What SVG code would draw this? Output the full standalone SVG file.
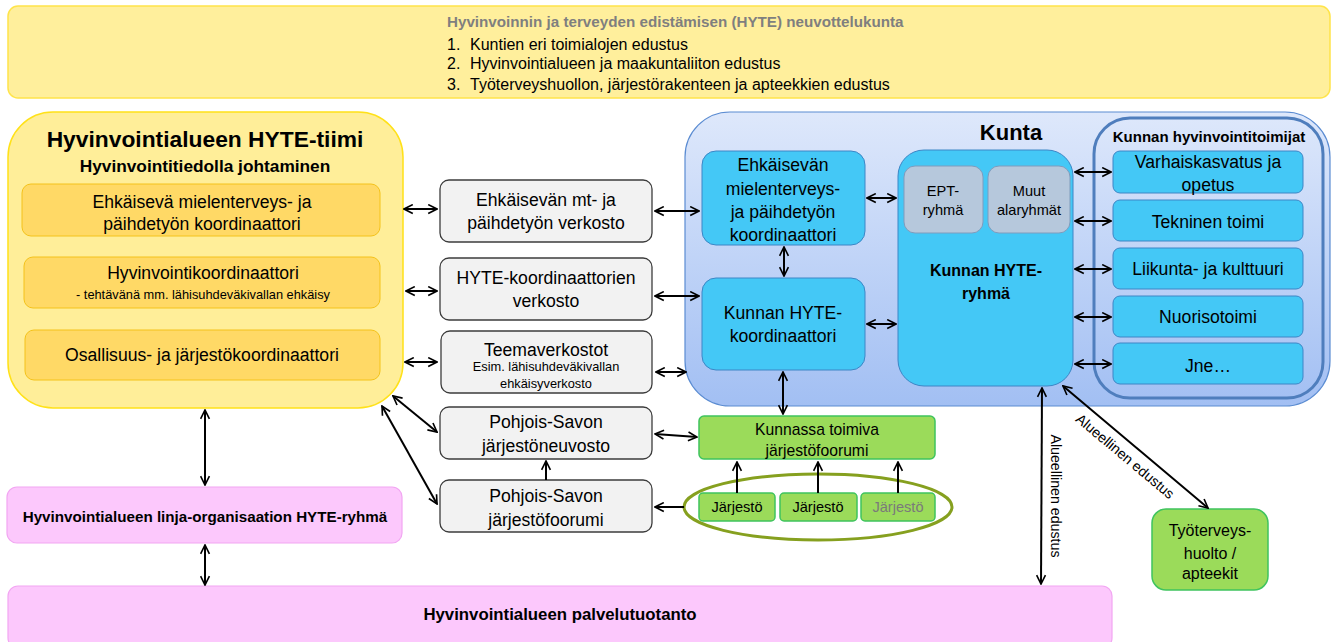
<svg xmlns="http://www.w3.org/2000/svg" width="1338" height="642" viewBox="0 0 1338 642">
<defs>
<linearGradient id="kuntaGrad" x1="0" y1="0" x2="0" y2="1">
<stop offset="0" stop-color="#DEE8FB"/>
<stop offset="1" stop-color="#A2BFF3"/>
</linearGradient>
<marker id="ah" viewBox="0 0 10 10" refX="9" refY="5" markerWidth="5.5" markerHeight="5.5" orient="auto-start-reverse" markerUnits="strokeWidth">
<path d="M1,1 L9,5 L1,9" fill="none" stroke="#000" stroke-width="1.5"/>
</marker>
<style>
text{font-family:"Liberation Sans","DejaVu Sans",sans-serif;fill:#000}
.c{text-anchor:middle}
.b{font-weight:bold}
.grey{fill:#F2F2F2;stroke:#3C3C3C;stroke-width:1.3}
.org{fill:#FFD966;stroke:#F4C21A;stroke-width:1}
.cyan{fill:#44C8F6;stroke:#3C86C6;stroke-width:1}
.green{fill:#9BDB5A;stroke:#3FC45E;stroke-width:1.5}
.pink{fill:#FCC8FC;stroke:#F2A6F2;stroke-width:1.2}
.sub{fill:#B6C8DC;stroke:#7E9CBD;stroke-width:1}
.t18{font-size:17.6px}
.t16{font-size:15.7px}
.conn line{stroke:#000;stroke-width:2;fill:none}
.bi{marker-start:url(#ah);marker-end:url(#ah)}
.one{marker-end:url(#ah)}
</style>
</defs>

<g id="neuvottelukunta">
<rect x="8" y="6" width="1322" height="92" rx="10" fill="#FFEF9C" stroke="#FFE44A" stroke-width="1.5"/>
<text x="447" y="27" class="b" font-size="15.2" style="fill:#7F7F7F">Hyvinvoinnin ja terveyden edistämisen (HYTE) neuvottelukunta</text>
<text x="447" y="50" font-size="16">1.</text><text x="470" y="50" font-size="16">Kuntien eri toimialojen edustus</text>
<text x="447" y="69" font-size="16">2.</text><text x="470" y="69" font-size="16">Hyvinvointialueen ja maakuntaliiton edustus</text>
<text x="447" y="90" font-size="16">3.</text><text x="470" y="90" font-size="16">Työterveyshuollon, järjestörakenteen ja apteekkien edustus</text>
</g>

<g id="hyte-tiimi">
<rect x="8" y="112" width="395" height="296" rx="45" fill="#FFEE99" stroke="#FFE119" stroke-width="1.5"/>
<text x="205" y="147" class="c b" font-size="22.8">Hyvinvointialueen HYTE-tiimi</text>
<text x="205" y="172" class="c b" font-size="17.3">Hyvinvointitiedolla johtaminen</text>
</g>
<g id="ehkaiseva-koord">
<rect x="22" y="184" width="358" height="52" rx="9" class="org"/>
<text x="202" y="208" class="c t18">Ehkäisevä mielenterveys- ja</text>
<text x="202" y="230" class="c t18">päihdetyön koordinaattori</text>
</g>
<g id="hyvinvointikoord">
<rect x="24" y="257" width="356" height="51" rx="9" class="org"/>
<text x="203" y="279" class="c t18">Hyvinvointikoordinaattori</text>
<text x="203" y="299" class="c" font-size="12.8">- tehtävänä mm. lähisuhdeväkivallan ehkäisy</text>
</g>
<g id="osallisuus-koord">
<rect x="25" y="330" width="355" height="50" rx="9" class="org"/>
<text x="202" y="361" class="c t18">Osallisuus- ja järjestökoordinaattori</text>
</g>

<g id="verkosto-mt">
<rect x="440" y="180" width="212" height="62" rx="9" class="grey"/>
<text x="546" y="206" class="c t18">Ehkäisevän mt- ja</text>
<text x="546" y="229" class="c t18">päihdetyön verkosto</text>
</g>
<g id="verkosto-hyte">
<rect x="440" y="258" width="212" height="62" rx="9" class="grey"/>
<text x="546" y="284" class="c t18">HYTE-koordinaattorien</text>
<text x="546" y="307" class="c t18">verkosto</text>
</g>
<g id="teemaverkostot">
<rect x="441" y="331" width="211" height="62" rx="9" class="grey"/>
<text x="546" y="356" class="c t18">Teemaverkostot</text>
<text x="546" y="371" class="c" font-size="12.8">Esim. lähisuhdeväkivallan</text>
<text x="546" y="388" class="c" font-size="12.8">ehkäisyverkosto</text>
</g>
<g id="jarjestoneuvosto">
<rect x="440" y="407" width="212" height="52" rx="9" class="grey"/>
<text x="546" y="428" class="c t18">Pohjois-Savon</text>
<text x="546" y="452" class="c t18">järjestöneuvosto</text>
</g>
<g id="ps-jarjestofoorumi">
<rect x="440" y="480" width="212" height="52" rx="9" class="grey"/>
<text x="546" y="502" class="c t18">Pohjois-Savon</text>
<text x="546" y="526" class="c t18">järjestöfoorumi</text>
</g>

<g id="kunta">
<rect x="685" y="112" width="645" height="294" rx="45" fill="url(#kuntaGrad)" stroke="#5B8CD2" stroke-width="1.2"/>
<text x="1011" y="140" class="c b" font-size="22">Kunta</text>
</g>
<g id="kunta-ehkaiseva">
<rect x="702" y="151" width="163" height="94" rx="14" class="cyan"/>
<text x="783" y="171" class="c t18">Ehkäisevän</text>
<text x="783" y="195" class="c t18">mielenterveys-</text>
<text x="783" y="218" class="c t18">ja päihdetyön</text>
<text x="783" y="241" class="c t18">koordinaattori</text>
</g>
<g id="kunta-hyte-koord">
<rect x="702" y="278" width="163" height="92" rx="14" class="cyan"/>
<text x="783" y="319" class="c t18">Kunnan HYTE-</text>
<text x="783" y="342" class="c t18">koordinaattori</text>
</g>
<g id="kunta-hyte-ryhma">
<rect x="898" y="150" width="175" height="236" rx="26" class="cyan"/>
<rect x="904" y="166" width="79" height="67" rx="11" class="sub"/>
<text x="943" y="196" class="c" font-size="14.6">EPT-</text>
<text x="943" y="215" class="c" font-size="14.6">ryhmä</text>
<rect x="988" y="166" width="82" height="67" rx="11" class="sub"/>
<text x="1029" y="196" class="c" font-size="14.6">Muut</text>
<text x="1029" y="215" class="c" font-size="14.6">alaryhmät</text>
<text x="986" y="276" class="c b" font-size="16">Kunnan HYTE-</text>
<text x="986" y="299" class="c b" font-size="16">ryhmä</text>
</g>

<g id="hyvinvointitoimijat">
<rect x="1094" y="118" width="229" height="280" rx="36" fill="none" stroke="#4F7EBD" stroke-width="3"/>
<text x="1209" y="142" class="c b" font-size="15">Kunnan hyvinvointitoimijat</text>
</g>
<g id="varhaiskasvatus">
<rect x="1113" y="151" width="190" height="42" rx="7" class="cyan"/>
<text x="1208" y="168" class="c t18">Varhaiskasvatus ja</text>
<text x="1208" y="191" class="c t18">opetus</text>
</g>
<g id="tekninen">
<rect x="1113" y="200" width="190" height="41" rx="7" class="cyan"/>
<text x="1208" y="228" class="c t18">Tekninen toimi</text>
</g>
<g id="liikunta">
<rect x="1113" y="248" width="190" height="41" rx="7" class="cyan"/>
<text x="1208" y="275" class="c t18">Liikunta- ja kulttuuri</text>
</g>
<g id="nuorisotoimi">
<rect x="1113" y="296" width="190" height="41" rx="7" class="cyan"/>
<text x="1208" y="323" class="c t18">Nuorisotoimi</text>
</g>
<g id="jne">
<rect x="1113" y="343" width="190" height="41" rx="7" class="cyan"/>
<text x="1208" y="372" class="c t18">Jne…</text>
</g>

<g id="kunnan-jarjestofoorumi">
<rect x="699" y="416" width="236" height="43" rx="5" class="green"/>
<text x="817" y="435" class="c t16">Kunnassa toimiva</text>
<text x="817" y="456" class="c t16">järjestöfoorumi</text>
</g>
<g id="jarjestot">
<ellipse cx="818" cy="507" rx="134" ry="33" fill="none" stroke="#86A01F" stroke-width="3"/>
<rect x="699" y="493" width="76" height="28" rx="4" class="green"/>
<text x="737" y="512" class="c" font-size="14.6">Järjestö</text>
<rect x="780" y="493" width="77" height="28" rx="4" class="green"/>
<text x="818" y="512" class="c" font-size="14.6">Järjestö</text>
<rect x="861" y="493" width="74" height="28" rx="4" class="green"/>
<text x="898" y="512" class="c" font-size="14.6" style="fill:#7A7A7A">Järjestö</text>
</g>

<g id="tyoterveys">
<rect x="1152" y="509" width="116" height="81" rx="14" class="green"/>
<text x="1210" y="536" class="c" font-size="16">Työterveys-</text>
<text x="1210" y="559" class="c" font-size="16">huolto /</text>
<text x="1210" y="579" class="c" font-size="16">apteekit</text>
</g>

<g id="linja-organisaatio">
<rect x="7" y="487" width="395" height="56" rx="10" class="pink"/>
<text x="205" y="522" class="c b" font-size="15.2">Hyvinvointialueen linja-organisaation HYTE-ryhmä</text>
</g>
<g id="palvelutuotanto">
<rect x="8" y="586" width="1104" height="62" rx="10" class="pink"/>
<text x="560" y="620" class="c b" font-size="16.8">Hyvinvointialueen palvelutuotanto</text>
</g>

<g id="connectors" class="conn">
<line x1="404" y1="209" x2="437" y2="209" class="bi"/>
<line x1="406" y1="291" x2="437" y2="291" class="bi"/>
<line x1="405" y1="362" x2="437" y2="362" class="bi"/>
<line x1="393" y1="396" x2="437" y2="432" class="bi"/>
<line x1="382" y1="406" x2="437" y2="504" class="bi"/>
<line x1="655" y1="211" x2="699" y2="211" class="bi"/>
<line x1="655" y1="296" x2="699" y2="296" class="bi"/>
<line x1="656" y1="372" x2="686" y2="372" class="bi"/>
<line x1="784" y1="247" x2="784" y2="276" class="bi"/>
<line x1="867" y1="198" x2="896" y2="198" class="bi"/>
<line x1="867" y1="324" x2="896" y2="324" class="bi"/>
<line x1="783" y1="372" x2="783" y2="414" class="bi"/>
<line x1="655" y1="434" x2="697" y2="437" class="bi"/>
<line x1="684" y1="507" x2="655" y2="507" class="one"/>
<line x1="546" y1="480" x2="546" y2="461" class="one"/>
<line x1="737" y1="493" x2="737" y2="462" class="one"/>
<line x1="818" y1="493" x2="818" y2="462" class="one"/>
<line x1="898" y1="493" x2="898" y2="462" class="one"/>
<line x1="1075" y1="172" x2="1111" y2="172" class="bi"/>
<line x1="1075" y1="221" x2="1111" y2="221" class="bi"/>
<line x1="1075" y1="269" x2="1111" y2="269" class="bi"/>
<line x1="1075" y1="317" x2="1111" y2="317" class="bi"/>
<line x1="1075" y1="364" x2="1111" y2="364" class="bi"/>
<line x1="1042" y1="388" x2="1041" y2="584" class="bi"/>
<line x1="1063" y1="386" x2="1208" y2="508" class="bi"/>
<line x1="205" y1="410" x2="205" y2="485" class="bi"/>
<line x1="205" y1="545" x2="205" y2="585" class="bi"/>
<text x="1051" y="496" class="c" font-size="14.2" transform="rotate(90 1051 496)">Alueellinen edustus</text>
<text x="1122" y="460" class="c" font-size="14.2" transform="rotate(40 1122 460)">Alueellinen edustus</text>
</g>
</svg>
